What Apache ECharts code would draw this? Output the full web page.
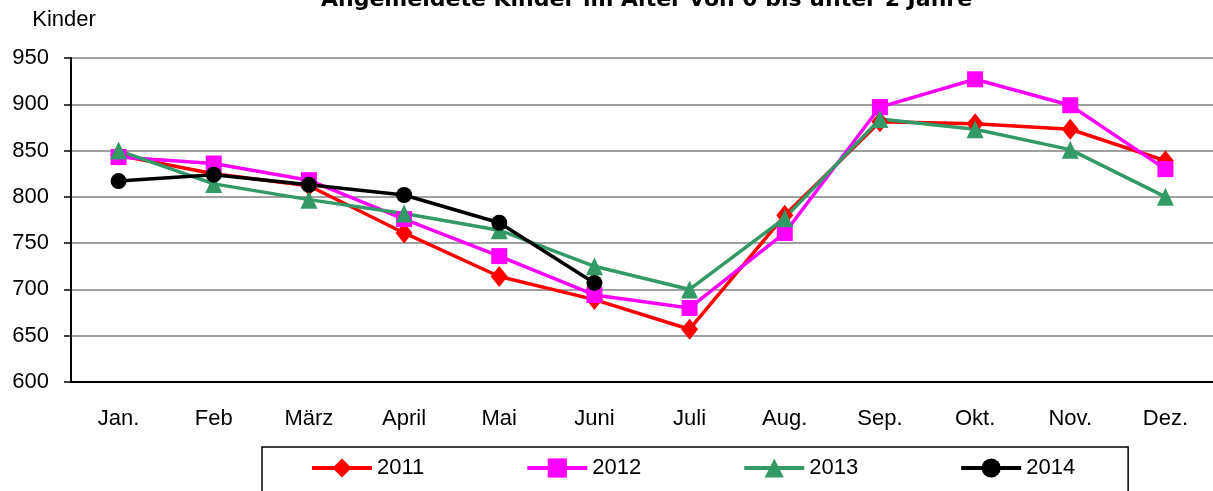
<!DOCTYPE html>
<html>
<head>
<meta charset="utf-8">
<script src="https://cdn.jsdelivr.net/npm/echarts@6/dist/echarts.min.js"></script>
<style>
  html, body { margin: 0; padding: 0; background: #fff; }
  #main { width: 1213px; height: 491px; }
</style>
</head>
<body>
<div id="main"></div>
<script>
var months = ['Jan.', 'Feb', 'März', 'April', 'Mai', 'Juni', 'Juli', 'Aug.', 'Sep.', 'Okt.', 'Nov.', 'Dez.'];
var data2011 = [845, 825, 812, 761, 714, 689, 657, 780, 881, 879, 873, 839];
var data2012 = [843, 836, 818, 776, 736, 694, 680, 761, 897, 927, 899, 830];
var data2013 = [850, 814, 797, 782, 764, 725, 700, 777, 884, 873, 851, 800];
var data2014 = [817, 824, 813, 802, 772, 707];

var myChart = echarts.init(document.getElementById('main'));
var font = 'Liberation Sans, Arial, sans-serif';

function line(name, data, color, symbol, size) {
  return {
    name: name,
    type: 'line',
    data: data,
    symbol: symbol,
    symbolSize: size,
    itemStyle: { color: color },
    lineStyle: { color: color, width: 3.5 },
    emphasis: { disabled: true },
    animation: false
  };
}

var option = {
  textStyle: { fontFamily: font },
  title: {
    text: 'Angemeldete Kinder im Alter von 0 bis unter 2 Jahre',
    left: 316,
    top: -16,
    textStyle: { fontSize: 22, fontWeight: 'bold', color: '#000', fontFamily: 'DejaVu Sans' }
  },
  legend: {
    left: 262,
    top: 447,
    padding: [10, 53, 40, 48],
    borderColor: '#000',
    borderWidth: 1.5,
    itemWidth: 60,
    itemHeight: 24,
    itemGap: 101,
    lineStyle: { width: 4 },
    textStyle: { fontSize: 22, color: '#000', fontFamily: font },
    data: ['2011', '2012', '2013', '2014']
  },
  grid: { left: 71, right: 0, top: 58, bottom: 109 },
  xAxis: {
    type: 'category',
    data: months,
    boundaryGap: true,
    axisLine: { lineStyle: { color: '#000', width: 2 } },
    axisTick: { length: 14, lineStyle: { color: '#000', width: 1.5 } },
    axisLabel: { fontSize: 22, color: '#000', margin: 26, fontFamily: font }
  },
  yAxis: {
    type: 'value',
    min: 600,
    max: 950,
    interval: 50,
    name: 'Kinder',
    nameGap: 27,
    nameTextStyle: { fontSize: 22, color: '#000', padding: [0, 14, 0, 0], fontFamily: font },
    axisLine: { show: true, lineStyle: { color: '#000', width: 2 } },
    axisTick: { show: true, length: 7, lineStyle: { color: '#000', width: 1.5 } },
    axisLabel: { fontSize: 22, color: '#000', margin: 22, fontFamily: font },
    splitLine: { lineStyle: { color: '#808080', width: 1.5 } }
  },
  series: [
    line('2011', data2011, '#ff0000', 'diamond', [17, 21]),
    line('2012', data2012, '#ff00ff', 'rect', 16),
    line('2013', data2013, '#339966', 'triangle', [17, 18]),
    line('2014', data2014, '#000000', 'circle', 16)
  ]
};
myChart.setOption(option);
</script>
</body>
</html>
